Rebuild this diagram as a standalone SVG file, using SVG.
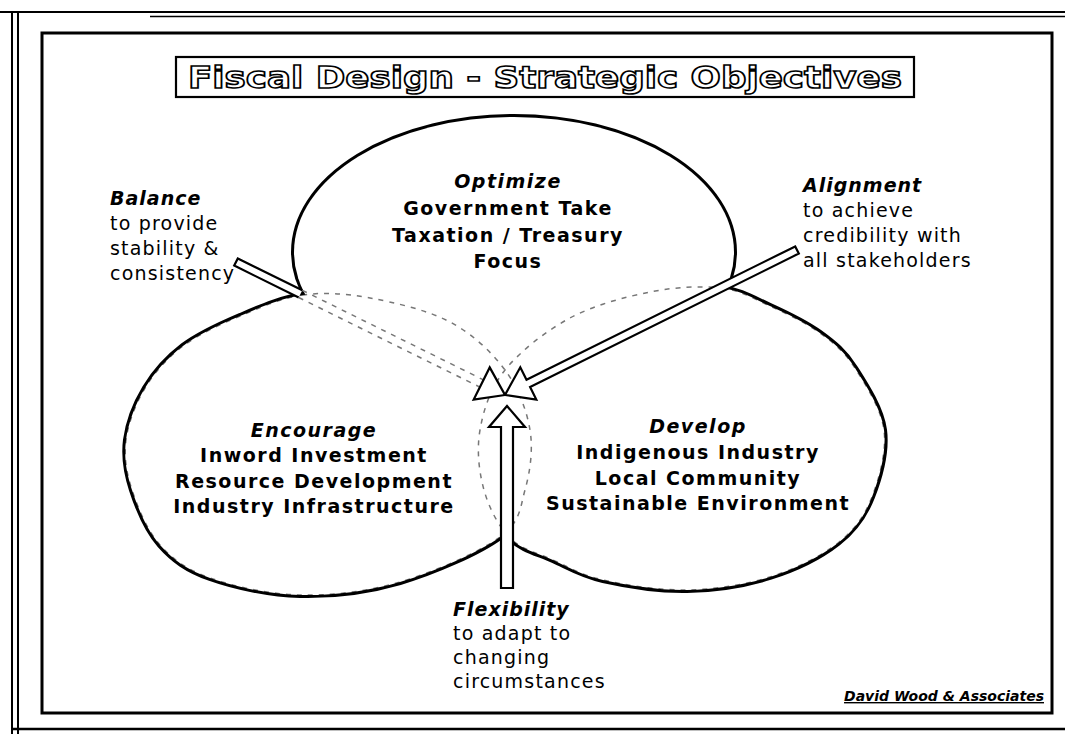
<svg xmlns="http://www.w3.org/2000/svg" width="1065" height="734" viewBox="0 0 1065 734">
<style>
  .frame{fill:none;stroke:#000}
  .edge{fill:none;stroke:#000;stroke-width:6}
  .faint{fill:none;stroke:#777;stroke-width:1.5;stroke-dasharray:5 6}
  .arrow{fill:#fff;stroke:#000;stroke-width:2.2;stroke-linejoin:miter}
  .body{font-family:"DejaVu Sans",Verdana,sans-serif;font-size:19px;font-weight:bold;letter-spacing:1.5px;fill:#000;text-anchor:middle}
  .head{font-family:"DejaVu Sans",Verdana,sans-serif;font-size:19px;font-weight:bold;font-style:italic;letter-spacing:1.5px;fill:#000;text-anchor:middle}
  .side{font-family:"DejaVu Sans",Verdana,sans-serif;font-size:19px;letter-spacing:1.2px;fill:#000}
  .sidehead{font-family:"DejaVu Sans",Verdana,sans-serif;font-size:19px;font-weight:bold;font-style:italic;letter-spacing:1px;fill:#000}
  .title{font-family:"DejaVu Sans",Verdana,sans-serif;font-size:31px;font-weight:bold;fill:#fff;stroke:#000;stroke-width:1.6;text-anchor:middle}
</style>
<defs>
  <path id="shapeL" d="M303,295 C281.3,298 260,307.5 240,316 C220,324.5 198.8,334 183,346 C167.2,358 154.5,372.3 145,388 C135.5,403.7 128.2,423 126,440 C123.8,457 126.3,472.5 132,490 C137.7,507.5 147,530.3 160,545 C173,559.7 186.7,569.7 210,578 C233.3,586.3 268.3,594.3 300,595 C331.7,595.7 366.7,591.7 400,582 C433.3,572.3 479.2,552.3 500,537 C520.8,521.7 520,507.8 525,490 C530,472.2 533.3,450 530,430 C526.7,410 518.3,388 505,370 C491.7,352 472.5,334 450,322 C427.5,310 394.5,302.5 370,298 C345.5,293.5 324.7,292 303,295 Z"/>
  <path id="shapeR" d="M721,288 C741,290.3 753.5,298.5 770,306 C786.5,313.5 805.8,322.7 820,333 C834.2,343.3 844.7,351.8 855,368 C865.3,384.2 881.2,408.5 884,430 C886.8,451.5 879.3,478.2 872,497 C864.7,515.8 855,529.7 838,543 C821,556.3 795.2,569.2 770,577 C744.8,584.8 714.8,589.5 687,590 C659.2,590.5 625.3,585 603,580 C580.7,575 568.5,567 553,560 C537.5,553 521.5,549.7 510,538 C498.5,526.3 489,508 484,490 C479,472 476.5,450 480,430 C483.5,410 490,388.7 505,370 C520,351.3 545.8,331 570,318 C594.2,305 624.8,297 650,292 C675.2,287 701,285.7 721,288 Z"/>
  <ellipse id="shapeT" cx="514" cy="252" rx="220" ry="135"/>
  <mask id="outside" maskUnits="userSpaceOnUse" x="0" y="0" width="1065" height="734">
    <rect x="0" y="0" width="1065" height="734" fill="#fff"/>
    <use href="#shapeL" fill="#000"/>
    <use href="#shapeR" fill="#000"/>
    <use href="#shapeT" fill="#000"/>
  </mask>
</defs>
<rect x="0" y="0" width="1065" height="734" fill="#fff"/>

<g id="frames">
  <line class="frame" x1="0" y1="12" x2="1065" y2="12" stroke-width="2"/>
  <line class="frame" x1="150" y1="16.5" x2="1065" y2="16.5" stroke-width="1.5"/>
  <line class="frame" x1="12" y1="12" x2="12" y2="734" stroke-width="2"/>
  <line class="frame" x1="18" y1="12" x2="18" y2="734" stroke-width="2"/>
  <line class="frame" x1="12" y1="729" x2="1065" y2="729" stroke-width="2.5"/>
  <rect class="frame" x="42" y="33" width="1010" height="680" stroke-width="3"/>
</g>

<g id="title">
  <rect x="176" y="57" width="738" height="40" fill="#fff" stroke="#000" stroke-width="2.2"/>
  <text class="title" x="545" y="88" textLength="714" lengthAdjust="spacingAndGlyphs">Fiscal Design - Strategic Objectives</text>
</g>

<g id="circles">
  <g class="faint">
    <use href="#shapeL"/>
    <use href="#shapeR"/>
  </g>
  <g class="edge" mask="url(#outside)">
    <use href="#shapeL"/>
    <use href="#shapeR"/>
    <use href="#shapeT"/>
  </g>
</g>

<g id="connectors">
  <!-- Balance arrow (left) -->
  <polygon points="234.2,265.6 298.7,297.5 302.3,290.3 237.8,258.4" fill="#fff" stroke="none"/>
  <polyline points="298.7,297.5 234.2,265.6 237.8,258.4 302.3,290.3" fill="none" stroke="#000" stroke-width="2.2"/>
  <line class="faint" x1="298.7" y1="297.5" x2="479.9" y2="387.1"/>
  <line class="faint" x1="302.3" y1="290.3" x2="483.5" y2="379.9"/>
  <polygon class="arrow" points="489.7,367.4 505,395 473.7,399.6"/>
  <!-- Alignment arrow (right) -->
  <polygon class="arrow" points="795.2,246.4 526.5,379.8 520.3,367.3 505,395 536.3,399.5 530.1,387 798.8,253.6"/>
  <!-- Flexibility arrow (bottom) -->
  <polygon class="arrow" points="501,588 501,427 489,427 507,406 525,427 513,427 513,588"/>
</g>

<g id="node-optimize">
  <text class="head" x="508" y="188">Optimize</text>
  <text class="body" x="508" y="215">Government Take</text>
  <text class="body" x="508" y="242">Taxation / Treasury</text>
  <text class="body" x="508" y="268">Focus</text>
</g>

<g id="node-encourage">
  <text class="head" x="314" y="437">Encourage</text>
  <text class="body" x="314" y="462">Inword Investment</text>
  <text class="body" x="314" y="488">Resource Development</text>
  <text class="body" x="314" y="513">Industry Infrastructure</text>
</g>

<g id="node-develop">
  <text class="head" x="698" y="433">Develop</text>
  <text class="body" x="698" y="459">Indigenous Industry</text>
  <text class="body" x="698" y="485">Local Community</text>
  <text class="body" x="698" y="510">Sustainable Environment</text>
</g>

<g id="label-balance">
  <text class="sidehead" x="110" y="205">Balance</text>
  <text class="side" x="110" y="230">to provide</text>
  <text class="side" x="110" y="255">stability &amp;</text>
  <text class="side" x="110" y="280">consistency</text>
</g>

<g id="label-alignment">
  <text class="sidehead" x="803" y="192">Alignment</text>
  <text class="side" x="803" y="217">to achieve</text>
  <text class="side" x="803" y="242">credibility with</text>
  <text class="side" x="803" y="267">all stakeholders</text>
</g>

<g id="label-flexibility">
  <text class="sidehead" x="453" y="616">Flexibility</text>
  <text class="side" x="453" y="640">to adapt to</text>
  <text class="side" x="453" y="664">changing</text>
  <text class="side" x="453" y="688">circumstances</text>
</g>

<g id="credit">
  <text x="1044" y="701" font-family="DejaVu Sans, Verdana, sans-serif" font-size="14" font-weight="bold" font-style="italic" text-anchor="end" text-decoration="underline">David Wood &amp; Associates</text>
</g>
</svg>
